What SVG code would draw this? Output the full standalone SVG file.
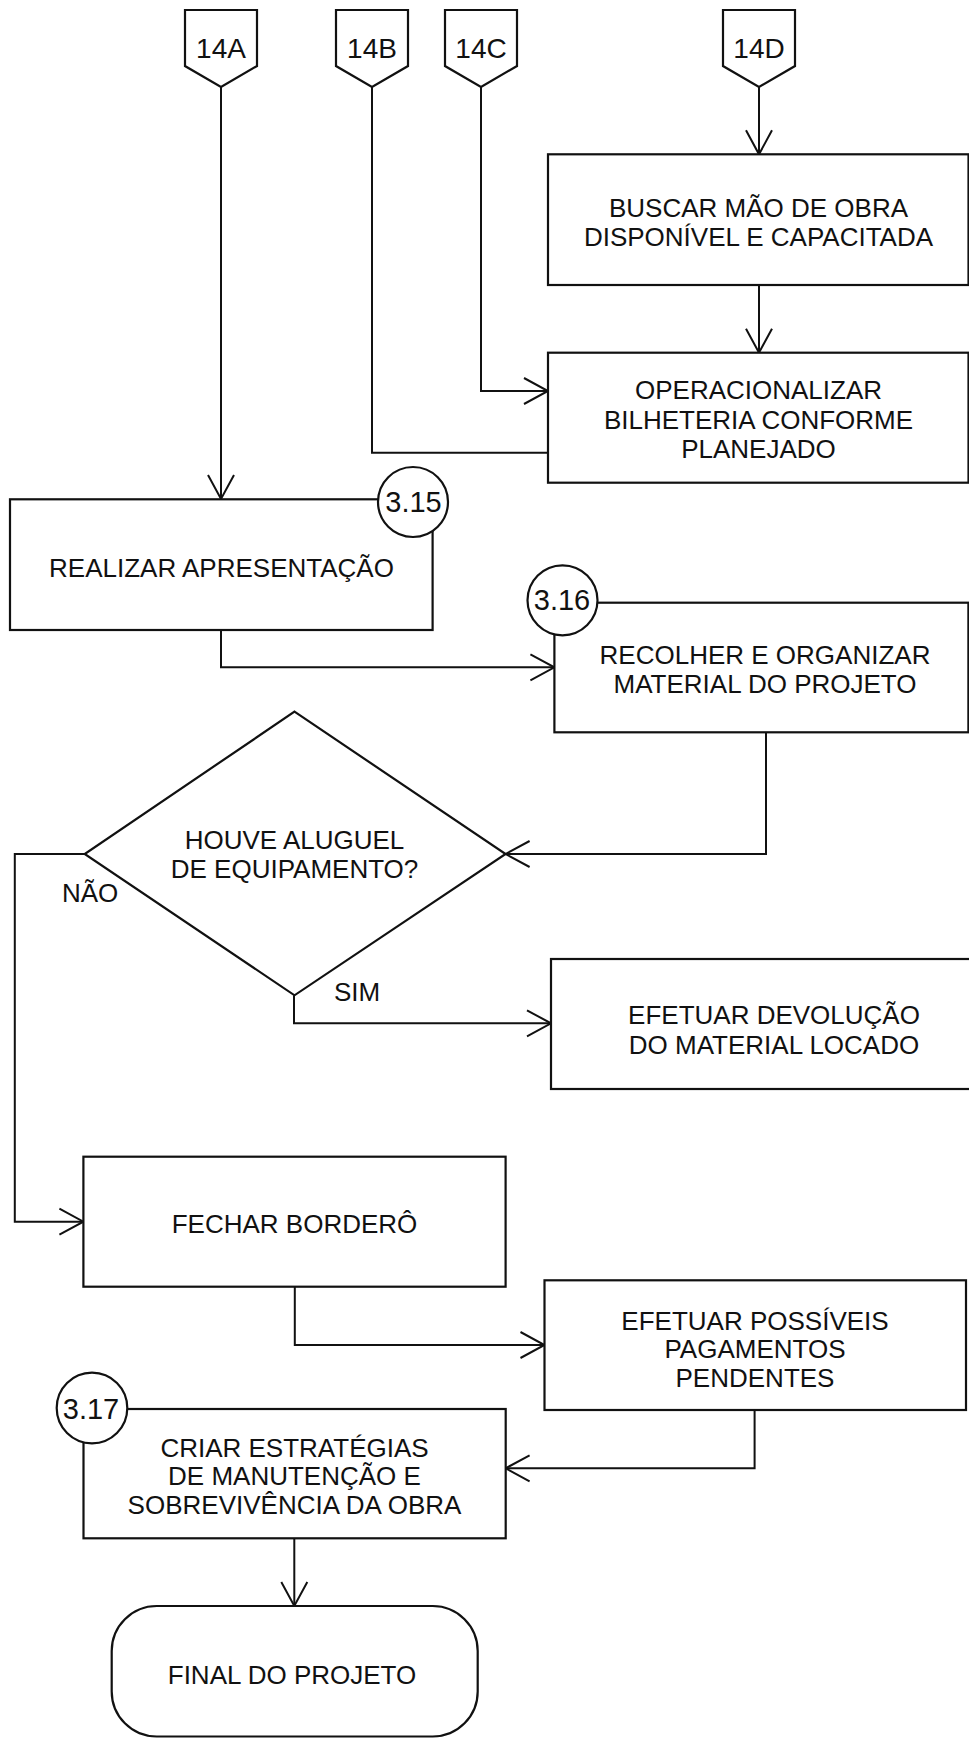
<svg xmlns="http://www.w3.org/2000/svg" width="969" height="1738" viewBox="0 0 969 1738">
  <style>
    .shape { fill: #ffffff; stroke: #111111; stroke-width: 2.2; }
    .wire { fill: none; stroke: #111111; stroke-width: 2; }
    .txt { font-family: "Liberation Sans", Arial, sans-serif; font-size: 26px; fill: #111111; text-anchor: middle; }
    .lbl { font-family: "Liberation Sans", Arial, sans-serif; font-size: 26px; fill: #111111; }
    .ref { font-family: "Liberation Sans", Arial, sans-serif; font-size: 28px; fill: #111111; text-anchor: middle; }
    .num { font-family: "Liberation Sans", Arial, sans-serif; font-size: 29px; fill: #111111; text-anchor: middle; }
  </style>
  <defs>
    <marker id="arrow" markerUnits="userSpaceOnUse" viewBox="-26 -15 28 30" markerWidth="28" markerHeight="30" refX="0" refY="0" orient="auto" overflow="visible">
      <path d="M-24,-13 L0,0 L-24,13" fill="none" stroke="#111111" stroke-width="2"/>
    </marker>
  </defs>
  <rect width="969" height="1738" fill="#ffffff"/>

  <!-- off-page connectors -->
  <g id="conn-14A">
    <polygon class="shape" points="185,10 257,10 257,66 221,87 185,66"/>
    <text class="ref" x="221" y="57.5">14A</text>
  </g>
  <g id="conn-14B">
    <polygon class="shape" points="336,10 408,10 408,66 372,87 336,66"/>
    <text class="ref" x="372" y="57.5">14B</text>
  </g>
  <g id="conn-14C">
    <polygon class="shape" points="445,10 517,10 517,66 481,87 445,66"/>
    <text class="ref" x="481" y="57.5">14C</text>
  </g>
  <g id="conn-14D">
    <polygon class="shape" points="723,10 795,10 795,66 759,87 723,66"/>
    <text class="ref" x="759" y="57.5">14D</text>
  </g>

  <!-- connectors -->
  <g id="connectors">
    <path class="wire" d="M221,87 V499" marker-end="url(#arrow)"/>
    <path class="wire" d="M372,87 V452.7 H548"/>
    <path class="wire" d="M481,87 V391 H548" marker-end="url(#arrow)"/>
    <path class="wire" d="M759,87 V154.3" marker-end="url(#arrow)"/>
    <path class="wire" d="M759,285 V352.7" marker-end="url(#arrow)"/>
    <path class="wire" d="M221,630 V667.3 H554.4" marker-end="url(#arrow)"/>
    <path class="wire" d="M766,732.3 V854 H505.6" marker-end="url(#arrow)"/>
    <path class="wire" d="M84.7,854 H14.8 V1221.7 H83.4" marker-end="url(#arrow)"/>
    <path class="wire" d="M294,995.3 V1023.3 H551" marker-end="url(#arrow)"/>
    <path class="wire" d="M294.8,1286.7 V1345 H544.5" marker-end="url(#arrow)"/>
    <path class="wire" d="M754.6,1410 V1468.3 H505.6" marker-end="url(#arrow)"/>
    <path class="wire" d="M294.3,1538.3 V1606" marker-end="url(#arrow)"/>
  </g>

  <g id="buscar">
    <rect class="shape" x="548" y="154.3" width="420.5" height="130.7"/>
    <text class="txt" x="758.5" y="217.3">BUSCAR MÃO DE OBRA</text>
    <text class="txt" x="758.5" y="246">DISPONÍVEL E CAPACITADA</text>
  </g>

  <g id="operacionalizar">
    <rect class="shape" x="548" y="352.7" width="420.5" height="130"/>
    <text class="txt" x="758.5" y="399">OPERACIONALIZAR</text>
    <text class="txt" x="758.5" y="428.5">BILHETERIA CONFORME</text>
    <text class="txt" x="758.5" y="457.5">PLANEJADO</text>
  </g>

  <g id="realizar">
    <rect class="shape" x="10" y="499.3" width="422.6" height="130.7"/>
    <circle class="shape" cx="413" cy="502" r="35"/>
    <text class="num" x="413.5" y="511.7">3.15</text>
    <text class="txt" x="221.5" y="576.7">REALIZAR APRESENTAÇÃO</text>
  </g>

  <g id="recolher">
    <rect class="shape" x="554.4" y="602.7" width="414" height="129.6"/>
    <circle class="shape" cx="562.5" cy="600.3" r="35"/>
    <text class="num" x="562" y="610">3.16</text>
    <text class="txt" x="765" y="664">RECOLHER E ORGANIZAR</text>
    <text class="txt" x="765" y="693.3">MATERIAL DO PROJETO</text>
  </g>

  <g id="decisao">
    <polygon class="shape" points="294.5,711.7 505.6,854 294.5,995.3 84.7,854"/>
    <text class="txt" x="294.5" y="849">HOUVE ALUGUEL</text>
    <text class="txt" x="294.5" y="878">DE EQUIPAMENTO?</text>
    <text class="lbl" x="62" y="901.7">NÃO</text>
    <text class="lbl" x="334" y="1001">SIM</text>
  </g>

  <g id="devolucao">
    <rect class="shape" x="551" y="959" width="450" height="130"/>
    <text class="txt" x="774" y="1024.3">EFETUAR DEVOLUÇÃO</text>
    <text class="txt" x="774" y="1054">DO MATERIAL LOCADO</text>
  </g>

  <g id="fechar">
    <rect class="shape" x="83.4" y="1156.7" width="422.2" height="130"/>
    <text class="txt" x="294.5" y="1233.3">FECHAR BORDERÔ</text>
  </g>

  <g id="pagamentos">
    <rect class="shape" x="544.5" y="1280.3" width="421.5" height="129.7"/>
    <text class="txt" x="755" y="1330">EFETUAR POSSÍVEIS</text>
    <text class="txt" x="755" y="1358.3">PAGAMENTOS</text>
    <text class="txt" x="755" y="1386.7">PENDENTES</text>
  </g>

  <g id="estrategias">
    <rect class="shape" x="83.5" y="1409" width="422.2" height="129.3"/>
    <circle class="shape" cx="92" cy="1408" r="35.3"/>
    <text class="num" x="91" y="1419">3.17</text>
    <text class="txt" x="294.5" y="1456.5">CRIAR ESTRATÉGIAS</text>
    <text class="txt" x="294.5" y="1485.3">DE MANUTENÇÃO E</text>
    <text class="txt" x="294.5" y="1514">SOBREVIVÊNCIA DA OBRA</text>
  </g>

  <g id="final">
    <rect class="shape" x="111.7" y="1606" width="366" height="130.5" rx="45" ry="45"/>
    <text class="txt" x="292" y="1683.5">FINAL DO PROJETO</text>
  </g>
</svg>
